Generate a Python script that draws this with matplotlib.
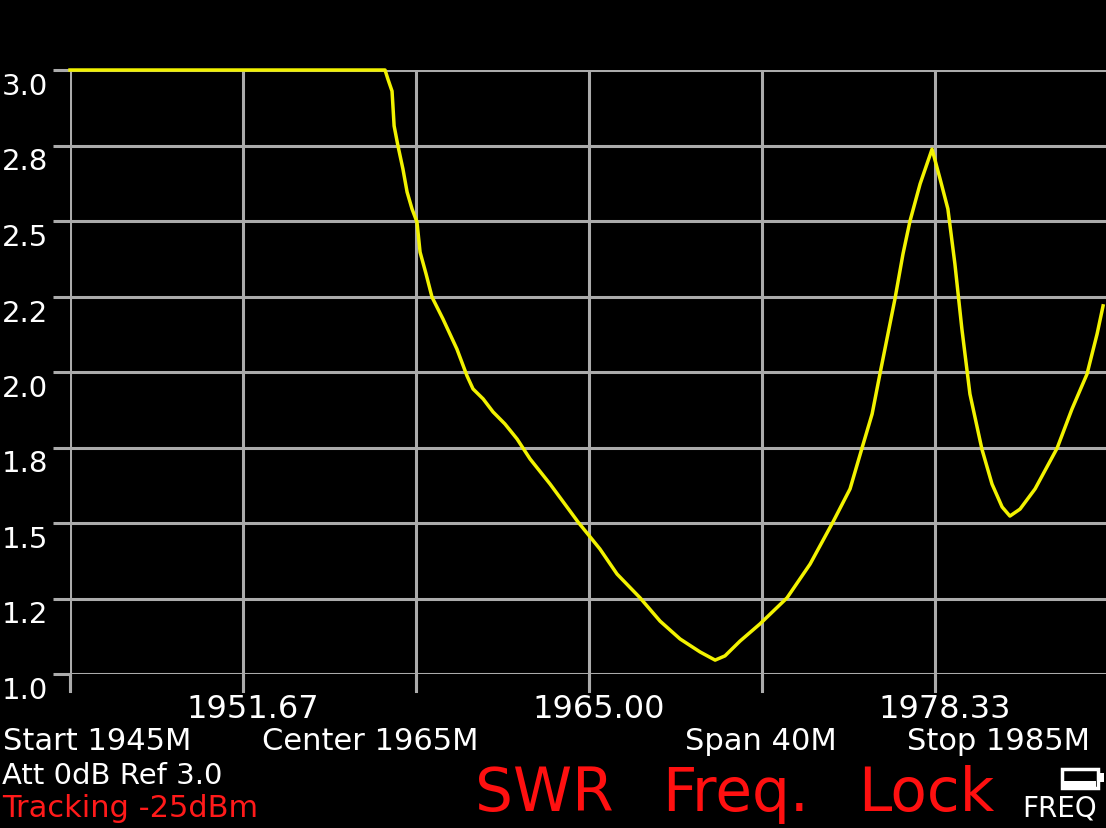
import matplotlib
matplotlib.use("Agg")
import matplotlib.pyplot as plt
import matplotlib.transforms as mtransforms
from matplotlib.patches import Rectangle

# trace (MHz, SWR)
freq = [1945.00, 1957.14, 1957.25, 1957.41, 1957.49, 1957.64, 1957.83, 1957.99,
        1958.18, 1958.37, 1958.49, 1958.72, 1958.95, 1959.37, 1959.64, 1959.91,
        1960.30, 1960.53, 1960.92, 1961.30, 1961.76, 1962.23, 1962.73, 1963.50,
        1964.58, 1965.42, 1966.08, 1966.97, 1967.74, 1968.51, 1969.28, 1969.86,
        1970.24, 1970.82, 1971.59, 1972.63, 1973.52, 1974.40, 1975.06, 1975.52,
        1975.91, 1976.21, 1976.52, 1976.79, 1977.10, 1977.37, 1977.76, 1978.22,
        1978.53, 1978.83, 1979.10, 1979.37, 1979.68, 1980.14, 1980.53, 1980.92,
        1981.22, 1981.61, 1982.19, 1983.04, 1983.61, 1984.19, 1984.58, 1984.81]
swr = [3.000, 3.000, 2.970, 2.930, 2.815, 2.748, 2.672, 2.596,
       2.540, 2.497, 2.397, 2.325, 2.248, 2.176, 2.126, 2.076,
       1.987, 1.944, 1.911, 1.868, 1.828, 1.778, 1.712, 1.629,
       1.503, 1.414, 1.331, 1.252, 1.175, 1.116, 1.073, 1.046,
       1.060, 1.109, 1.166, 1.252, 1.364, 1.503, 1.613, 1.748,
       1.861, 1.993, 2.126, 2.242, 2.391, 2.500, 2.623, 2.738,
       2.639, 2.540, 2.358, 2.142, 1.927, 1.745, 1.629, 1.553,
       1.523, 1.546, 1.613, 1.748, 1.877, 1.993, 2.126, 2.219]

x_grid = [1945, 1951.67, 1958.33, 1965, 1971.67, 1978.33, 1985]
x_label_pos = [1951.67, 1965, 1978.33]
x_labels = ['1951.67', '1965.00', '1978.33']
y_grid = [1.0, 1.25, 1.5, 1.75, 2.0, 2.25, 2.5, 2.75, 3.0]
y_labels = ['1.0', '1.2', '1.5', '1.8', '2.0', '2.2', '2.5', '2.8', '3.0']

W, H = 1106, 829
fig = plt.figure(figsize=(W / 100, H / 100), dpi=100, facecolor='black')
ax = fig.add_axes([70 / W, 154 / H, 1038 / W, 604 / H])
ax.set_facecolor('black')
ax.set_xlim(1945, 1985)
ax.set_ylim(1.0, 3.0)
for s in ax.spines.values():
    s.set_visible(False)

grey = '#ababab'
ax.set_xticks(x_grid)
ax.set_yticks(y_grid)
ax.grid(True, color=grey, lw=2.2)
ax.tick_params(colors=grey, length=12, width=2.2, direction='out',
               labelbottom=False, labelleft=False)
# make sure every vertical grid line pokes out below the screen area
btr = mtransforms.blended_transform_factory(ax.transData, ax.transAxes)
for v in x_grid:
    ax.plot([v, v], [0, -0.028], transform=btr, color=grey, lw=2.2, clip_on=False)

ax.plot(freq, swr, color='#f2f200', lw=2.5, clip_on=False, zorder=5)

font = 'DejaVu Sans'
# y labels, left aligned at the screen edge, sitting just under each grid line
ytr = mtransforms.blended_transform_factory(fig.transFigure, ax.transData)
for v, lab in zip(y_grid, y_labels):
    ax.text(2 / W, v, lab, transform=mtransforms.offset_copy(ytr, fig=fig, y=-16, units='dots'),
            color='white', fontsize=21, family=font, ha='left', va='center')

xtr = mtransforms.blended_transform_factory(ax.transData, fig.transFigure)
for v, lab in zip(x_label_pos, x_labels):
    ax.text(v, 1 - 710 / H, lab, transform=mtransforms.offset_copy(xtr, fig=fig, x=10, units='dots'),
            color='white', fontsize=23, family=font, ha='center', va='center')

fig.text(3 / W, 1 - 742 / H, 'Start 1945M', color='white', fontsize=22, family=font, va='center')
fig.text(262 / W, 1 - 742 / H, 'Center 1965M', color='white', fontsize=22, family=font, va='center')
fig.text(685 / W, 1 - 742 / H, 'Span 40M', color='white', fontsize=22, family=font, va='center')
fig.text(907 / W, 1 - 742 / H, 'Stop 1985M', color='white', fontsize=22, family=font, va='center')
fig.text(2 / W, 1 - 776 / H, 'Att 0dB Ref 3.0', color='white', fontsize=21, family=font, va='center')
fig.text(2 / W, 1 - 809 / H, 'Tracking -25dBm', color='#ff1a1a', fontsize=22, family=font, va='center')
for word, x0 in [('SWR', 475), ('Freq.', 662), ('Lock', 858)]:
    fig.text(x0 / W, 1 - 795 / H, word, color='#ff1010', fontsize=43, family=font, va='center')
fig.text(1022 / W, 1 - 809 / H, 'FREQ', color='white', fontsize=20, family=font, va='center')

# battery icon
fig.patches.append(Rectangle((1062 / W, 1 - 789 / H), 36 / W, 19 / H, transform=fig.transFigure,
                             fill=False, ec='white', lw=2.5))
fig.patches.append(Rectangle((1064 / W, 1 - 788 / H), 32 / W, 6 / H, transform=fig.transFigure,
                             fc='white', ec='none'))
fig.patches.append(Rectangle((1098 / W, 1 - 783 / H), 6 / W, 9 / H, transform=fig.transFigure,
                             fc='white', ec='none'))

fig.savefig('out.png', dpi=100, facecolor='black')
